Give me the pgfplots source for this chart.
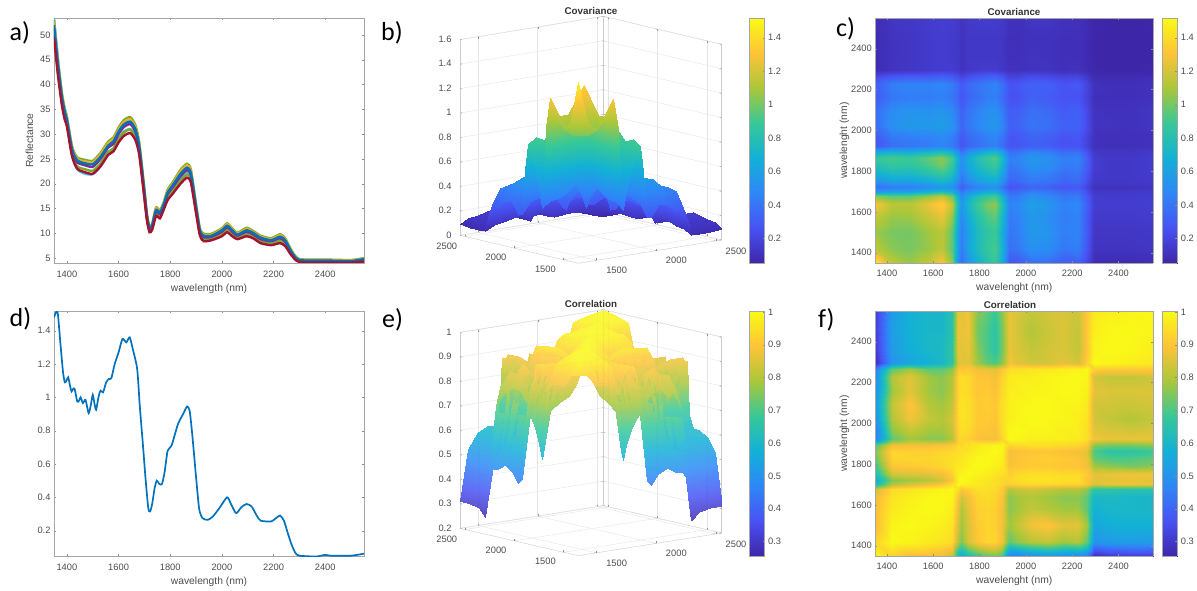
\documentclass[border=0pt]{standalone}
\usepackage{pgfplots}
\pgfplotsset{compat=1.18}
\usepackage{pgfplotstable}
\usepackage{fontspec}
\setmainfont{Liberation Sans}
\newfontfamily\panelfont{Carlito}
\pgfplotsset{colormap={parula}{rgb255=(62,38,168) rgb255=(72,82,244) rgb255=(46,135,247) rgb255=(18,177,214) rgb255=(55,200,151) rgb255=(171,199,57) rgb255=(254,195,56) rgb255=(249,251,21)}}
\pgfplotsset{base/.style={scale only axis,/pgf/number format/assume math mode=true,/pgf/number format/set thousands separator={},
 tick label style={font=\fontsize{9.3}{10}\selectfont,text=black!70},
 label style={font=\fontsize{10.3}{11}\selectfont,text=black!70},
 axis line style={black!35},tick style={black!45},major tick length=2pt,colormap name=parula}}
\def\wlat#1{\ifcase\numexpr#1\relax 1350\or 1420\or 1500\or 1580\or 1640\or 1680\or 1705\or 1722\or 1750\or 1790\or 1830\or 1865\or 1895\or 1925\or 1960\or 2020\or 2095\or 2160\or 2225\or 2265\or 2295\or 2360\or 2450\or 2550\fi}
\def\wlx{\the\numexpr\wlat{\coordindex-24*((2*\coordindex-23)/48)}\relax}
\def\wly{\the\numexpr\wlat{(2*\coordindex-23)/48}\relax}
\pgfplotstableread{
w lb g y bl p o r
1350 53.4 53.0 52.6 52.0 51.4 50.3 49.5
1365 45.3 45.0 44.6 44.2 43.7 42.7 42.0
1380 38.0 38.5 38.2 37.8 37.4 36.6 36.0
1391 34.5 35.3 35.0 34.7 34.3 33.5 33.0
1400 32.5 33.5 33.3 32.9 32.6 31.9 31.5
1420 25.8 27.5 27.3 26.9 26.6 25.9 25.5
1440 22.9 25.3 25.0 24.7 24.3 23.5 23.0
1470 22.0 24.8 24.5 24.1 23.7 22.9 22.3
1500 21.9 24.6 24.3 23.9 23.4 22.6 22.0
1530 23.5 26.2 25.9 25.4 25.0 24.1 23.5
1560 26.0 28.5 28.2 27.7 27.3 26.4 25.8
1580 27.0 29.3 29.0 28.5 28.0 27.1 26.5
1600 29.0 31.3 30.9 30.5 30.0 29.0 28.3
1620 30.5 32.8 32.4 31.9 31.4 30.3 29.6
1645 31.0 33.4 33.0 32.5 32.0 30.9 30.2
1665 29.8 31.8 31.4 31.0 30.5 29.5 28.8
1680 26.6 28.3 28.0 27.6 27.2 26.4 25.8
1700 17.6 18.8 18.6 18.3 18.0 17.4 17.0
1710 13.0 13.8 13.6 13.4 13.2 12.8 12.5
1720 10.6 11.3 11.2 11.0 10.8 10.4 10.2
1730 11.1 11.9 11.8 11.6 11.4 11.0 10.7
1745 14.1 15.2 15.0 14.7 14.4 13.9 13.5
1760 13.6 14.6 14.4 14.2 13.9 13.4 13.0
1775 15.3 16.3 16.1 15.9 15.6 15.1 14.8
1790 17.4 18.8 18.5 18.2 17.9 17.2 16.7
1810 18.8 20.3 20.0 19.7 19.3 18.5 18.0
1840 20.9 22.8 22.5 22.0 21.5 20.6 20.0
1865 22.1 24.0 23.7 23.2 22.7 21.8 21.2
1880 21.0 22.8 22.5 22.1 21.6 20.8 20.2
1900 14.6 15.8 15.6 15.3 15.0 14.4 14.0
1915 10.0 10.9 10.7 10.5 10.3 9.8 9.5
1930 8.9 9.9 9.7 9.5 9.2 8.7 8.4
1960 9.0 9.9 9.7 9.5 9.3 8.9 8.6
2000 10.0 11.0 10.8 10.6 10.3 9.8 9.4
2020 10.8 12.0 11.8 11.5 11.2 10.6 10.2
2040 10.0 11.0 10.8 10.6 10.3 9.8 9.4
2060 9.2 10.1 9.9 9.7 9.5 9.1 8.8
2095 10.0 11.1 10.9 10.6 10.3 9.8 9.4
2120 9.5 10.5 10.3 10.1 9.8 9.3 9.0
2150 8.5 9.5 9.3 9.1 8.8 8.3 8.0
2190 8.1 9.0 8.8 8.6 8.4 7.9 7.6
2225 8.6 9.8 9.6 9.3 9.0 8.4 8.0
2245 8.0 9.0 8.8 8.6 8.3 7.8 7.4
2270 5.8 6.5 6.4 6.2 6.0 5.7 5.5
2300 4.4 4.8 4.7 4.6 4.5 4.3 4.2
2400 4.3 4.7 4.6 4.5 4.4 4.2 4.1
2500 4.2 4.6 4.5 4.4 4.3 4.2 4.1
2550 4.5 5.0 4.9 4.8 4.6 4.4 4.3
}\spectra
\pgfplotstableread{
w v
1350 1.48
1358 1.51
1365 1.50
1375 1.32
1385 1.15
1392 1.09
1398 1.10
1405 1.12
1412 1.07
1418 1.035
1424 1.05
1430 1.05
1440 0.975
1447 0.98
1453 1.00
1462 0.965
1472 0.985
1484 0.905
1492 0.95
1500 1.015
1507 0.96
1513 0.925
1522 1.00
1530 1.04
1540 1.03
1552 1.09
1562 1.11
1572 1.115
1585 1.20
1600 1.27
1615 1.35
1630 1.33
1643 1.36
1655 1.29
1672 1.17
1682 0.95
1695 0.70
1705 0.50
1715 0.335
1722 0.315
1730 0.36
1740 0.46
1748 0.50
1758 0.48
1768 0.48
1778 0.55
1790 0.68
1805 0.71
1830 0.84
1850 0.90
1865 0.945
1875 0.92
1885 0.78
1900 0.52
1912 0.33
1925 0.275
1945 0.265
1965 0.285
1990 0.335
2020 0.40
2035 0.36
2055 0.305
2075 0.34
2095 0.36
2115 0.345
2135 0.29
2150 0.26
2190 0.255
2205 0.27
2225 0.29
2240 0.26
2255 0.185
2270 0.115
2285 0.065
2300 0.05
2365 0.045
2400 0.055
2420 0.05
2500 0.05
2550 0.062
}\vari
\pgfplotstableread[header=false]{
1.48
1.15
1.07
1.16
1.30
1.05
.52
.38
.53
.68
.80
.88
.66
.29
.28
.37
.37
.30
.31
.20
.08
.08
.08
.09
1.15
1.04
1.01
1.07
1.14
.96
.58
.43
.61
.76
.87
.92
.70
.38
.41
.52
.50
.41
.44
.27
.12
.12
.12
.13
1.07
1.01
1.00
1.08
1.14
.96
.59
.44
.60
.75
.85
.89
.68
.41
.43
.56
.54
.44
.46
.29
.13
.13
.13
.14
1.16
1.07
1.08
1.18
1.26
1.06
.67
.49
.66
.82
.93
.97
.74
.43
.45
.56
.52
.43
.46
.29
.15
.15
.15
.16
1.30
1.14
1.14
1.26
1.36
1.15
.74
.55
.73
.89
1.01
1.05
.80
.46
.48
.59
.55
.45
.48
.31
.16
.16
.16
.17
1.05
.96
.96
1.06
1.15
1.00
.67
.50
.65
.78
.87
.91
.71
.42
.43
.53
.49
.41
.43
.28
.16
.15
.15
.16
.52
.58
.59
.67
.74
.67
.50
.39
.49
.57
.62
.65
.52
.34
.35
.42
.40
.34
.35
.24
.14
.14
.14
.15
.38
.43
.44
.49
.55
.50
.39
.32
.39
.45
.49
.52
.40
.27
.28
.34
.32
.27
.29
.19
.11
.11
.11
.12
.53
.61
.60
.66
.73
.65
.49
.39
.50
.58
.64
.66
.52
.34
.35
.42
.40
.34
.36
.24
.14
.14
.14
.15
.68
.76
.75
.82
.89
.78
.57
.45
.58
.68
.75
.79
.62
.38
.39
.47
.45
.38
.40
.27
.15
.14
.14
.16
.80
.87
.85
.93
1.01
.87
.62
.49
.64
.75
.84
.89
.70
.42
.44
.53
.51
.43
.44
.30
.16
.14
.14
.16
.88
.92
.89
.97
1.05
.91
.65
.52
.66
.79
.89
.94
.75
.45
.46
.55
.52
.44
.46
.31
.16
.14
.14
.16
.66
.70
.68
.74
.80
.71
.52
.40
.52
.62
.70
.75
.60
.38
.39
.47
.44
.37
.39
.26
.14
.13
.13
.15
.29
.38
.41
.43
.46
.42
.34
.27
.34
.38
.42
.45
.38
.28
.28
.32
.31
.26
.27
.19
.11
.10
.10
.11
.28
.41
.43
.45
.48
.43
.35
.28
.35
.39
.44
.46
.39
.28
.28
.33
.31
.26
.28
.19
.11
.10
.10
.11
.37
.52
.56
.56
.59
.53
.42
.34
.42
.47
.53
.55
.47
.32
.33
.40
.38
.32
.33
.23
.12
.12
.11
.13
.37
.50
.54
.52
.55
.49
.40
.32
.40
.45
.51
.52
.44
.31
.31
.38
.36
.30
.32
.22
.12
.11
.11
.13
.30
.41
.44
.43
.45
.41
.34
.27
.34
.38
.43
.44
.37
.26
.26
.32
.30
.26
.27
.19
.10
.10
.10
.11
.31
.44
.46
.46
.48
.43
.35
.29
.36
.40
.44
.46
.39
.27
.28
.33
.32
.27
.29
.20
.11
.10
.10
.11
.20
.27
.29
.29
.31
.28
.24
.19
.24
.27
.30
.31
.26
.19
.19
.23
.22
.19
.20
.14
.08
.08
.08
.09
.08
.12
.13
.15
.16
.16
.14
.11
.14
.15
.16
.16
.14
.11
.11
.12
.12
.10
.11
.08
.06
.05
.05
.06
.08
.12
.13
.15
.16
.15
.14
.11
.14
.14
.14
.14
.13
.10
.10
.12
.11
.10
.10
.08
.05
.05
.05
.05
.08
.12
.13
.15
.16
.15
.14
.11
.14
.14
.14
.14
.13
.10
.10
.11
.11
.10
.10
.08
.05
.05
.05
.05
.09
.13
.14
.16
.17
.16
.15
.12
.15
.16
.16
.16
.15
.11
.11
.13
.13
.11
.11
.09
.06
.05
.05
.06
}\cov
\pgfplotstableread[header=false]{
1
.93
.88
.88
.87
.83
.60
.56
.62
.68
.72
.74
.70
.46
.44
.48
.50
.48
.47
.44
.27
.30
.31
.31
.93
1
.99
.97
.96
.94
.80
.75
.84
.90
.93
.93
.88
.72
.76
.80
.82
.78
.80
.72
.50
.52
.53
.52
.88
.99
1
.99
.98
.96
.84
.78
.85
.91
.93
.92
.88
.78
.82
.88
.90
.86
.86
.78
.55
.57
.58
.58
.88
.97
.99
1
.995
.98
.87
.80
.86
.92
.93
.92
.88
.76
.78
.82
.80
.78
.78
.72
.58
.60
.60
.60
.87
.96
.98
.995
1
.99
.90
.84
.88
.93
.94
.93
.89
.76
.78
.80
.78
.76
.76
.72
.60
.61
.60
.60
.83
.94
.96
.98
.99
1
.95
.90
.92
.95
.95
.94
.91
.80
.82
.84
.82
.80
.80
.76
.66
.66
.65
.65
.60
.80
.84
.87
.90
.95
1
.99
.98
.97
.96
.95
.94
.92
.93
.94
.94
.93
.93
.90
.85
.87
.88
.87
.56
.75
.78
.80
.84
.90
.99
1
.99
.97
.96
.95
.93
.93
.95
.96
.96
.95
.95
.90
.86
.86
.87
.86
.62
.84
.85
.86
.88
.92
.98
.99
1
.99
.98
.96
.95
.92
.94
.95
.95
.94
.94
.91
.86
.87
.88
.88
.68
.90
.91
.92
.93
.95
.97
.97
.99
1
.995
.98
.97
.89
.90
.91
.91
.90
.90
.88
.78
.76
.74
.76
.72
.93
.93
.93
.94
.95
.96
.96
.98
.995
1
.995
.98
.88
.90
.91
.92
.91
.90
.87
.72
.70
.70
.72
.74
.93
.92
.92
.93
.94
.95
.95
.96
.98
.995
1
.99
.88
.89
.90
.90
.89
.88
.86
.70
.66
.66
.68
.70
.88
.88
.88
.89
.91
.94
.93
.95
.97
.98
.99
1
.93
.94
.95
.95
.94
.93
.90
.76
.74
.74
.76
.46
.72
.78
.76
.76
.80
.92
.93
.92
.89
.88
.88
.93
1
.995
.98
.98
.98
.97
.95
.88
.87
.87
.87
.44
.76
.82
.78
.78
.82
.93
.95
.94
.90
.90
.89
.94
.995
1
.99
.99
.98
.98
.95
.86
.85
.84
.85
.48
.80
.88
.82
.80
.84
.94
.96
.95
.91
.91
.90
.95
.98
.99
1
.995
.99
.98
.96
.84
.82
.80
.82
.50
.82
.90
.80
.78
.82
.94
.96
.95
.91
.92
.90
.95
.98
.99
.995
1
.99
.99
.97
.84
.84
.83
.84
.48
.78
.86
.78
.76
.80
.93
.95
.94
.90
.91
.89
.94
.98
.98
.99
.99
1
.995
.98
.86
.85
.85
.85
.47
.80
.86
.78
.76
.80
.93
.95
.94
.90
.90
.88
.93
.97
.98
.98
.99
.995
1
.99
.84
.82
.82
.83
.44
.72
.78
.72
.72
.76
.90
.90
.91
.88
.87
.86
.90
.95
.95
.96
.97
.98
.99
1
.92
.91
.91
.91
.27
.50
.55
.58
.60
.66
.85
.86
.86
.78
.72
.70
.76
.88
.86
.84
.84
.86
.84
.92
1
.99
.98
.97
.30
.52
.57
.60
.61
.66
.87
.86
.87
.76
.70
.66
.74
.87
.85
.82
.84
.85
.82
.91
.99
1
.995
.98
.31
.53
.58
.60
.60
.65
.88
.87
.88
.74
.70
.66
.74
.87
.84
.80
.83
.85
.82
.91
.98
.995
1
.99
.31
.52
.58
.60
.60
.65
.87
.86
.88
.76
.72
.68
.76
.87
.85
.82
.84
.85
.83
.91
.97
.98
.99
1
}\corr
\pgfplotsset{
 line/.style={base,anchor=south west,width=310pt,height=245pt,xmin=1350,xmax=2550,xtick={1400,1600,...,2400},xlabel={wavelength (nm)},x tick label style={yshift=-4pt}},
 heat/.style={base,anchor=south west,width=278pt,height=245pt,view={0}{90},axis on top,
  xmin=1350,xmax=2550,ymin=1350,ymax=2550,xtick={1400,1600,...,2400},ytick={1400,1600,...,2400},
  xlabel={wavelenght (nm)},ylabel={wavelenght (nm)},ylabel shift=-5pt,x tick label style={yshift=-3pt}},
 cbar/.style={base,anchor=south west,width=15.3pt,height=245pt,view={0}{90},axis on top,
  xmin=0,xmax=1,zmin=-1,zmax=1,xtick=\empty,ytick pos=right,yticklabel pos=right},
 wall/.style={base,anchor=south west,xmin=1350,xmax=2550,ymin=1350,ymax=2550,
  axis line style={black!20},
  x tick label style={xshift=14pt,yshift=-2pt},y tick label style={xshift=-11pt,yshift=-1pt},z tick label style={xshift=-5pt},
  xtick={1500,2000,2500},ytick={1500,2000,2500},grid=major,grid style={black!10}},
 matdata/.style={surf,shader=interp,mesh/rows=24,mesh/cols=24,point meta=z},
}
\begin{document}
\begin{tikzpicture}[x=1pt,y=1pt]
\path[use as bounding box] (0,0) rectangle (1197,590);
% a
\begin{axis}[line,at={(54pt,327pt)},ymin=4,ymax=53.4,ytick={5,10,...,50},ylabel={Reflectance}]
\addplot[color={rgb,255:red,77;green,190;blue,238},line width=2.4pt,smooth,tension=0.4] table[x=w,y=lb]{\spectra};
\addplot[color={rgb,255:red,119;green,172;blue,48},line width=2.4pt,smooth,tension=0.4] table[x=w,y=g]{\spectra};
\addplot[color={rgb,255:red,237;green,177;blue,32},line width=2.4pt,smooth,tension=0.4] table[x=w,y=y]{\spectra};
\addplot[color={rgb,255:red,119;green,172;blue,48},line width=2.4pt,smooth,tension=0.4] table[x=w,y=o]{\spectra};
\addplot[color={rgb,255:red,126;green,47;blue,142},line width=2.4pt,smooth,tension=0.4] table[x=w,y=p]{\spectra};
\addplot[color={rgb,255:red,0;green,114;blue,189},line width=2.4pt,smooth,tension=0.4] table[x=w,y=bl]{\spectra};
\addplot[color={rgb,255:red,162;green,20;blue,47},line width=2.4pt,smooth,tension=0.4] table[x=w,y=r]{\spectra};
\end{axis}
% d
\begin{axis}[line,at={(54pt,34pt)},ymin=0.048,ymax=1.518,ytick={0.2,0.4,...,1.4}]
\addplot[color={rgb,255:red,0;green,114;blue,189},line width=1.7pt,smooth,tension=0.4] table[x=w,y=v]{\vari};
\end{axis}
% b
\begin{axis}[wall,at={(460pt,326.7pt)},x={(0.11944pt,0.01944pt)},y={(-0.0986pt,0.02333pt)},z={(0pt,122.3pt)},
 zmin=0,zmax=1.6,ztick={0,0.2,...,1.6},point meta min=0.054,point meta max=1.518]
\addplot3[matdata,z buffer=sort] table[x index=0,y index=0,z index=0,x expr=\wlx,y expr=\wly]{\cov};
\end{axis}
% e
\begin{axis}[wall,at={(460pt,34.3pt)},x={(0.11944pt,0.0189pt)},y={(-0.0986pt,0.02278pt)},z={(0pt,245pt)},
 zmin=0.2,zmax=1,ztick={0.2,0.3,...,1},point meta min=0.256,point meta max=1.003]
\addplot3[matdata,z buffer=sort,opacity=0.85] table[x index=0,y index=0,z index=0,x expr=\wlx,y expr=\wly]{\corr};
\end{axis}
% c
\begin{axis}[heat,at={(875.3pt,327pt)},point meta min=0.054,point meta max=1.518]
\addplot3[matdata] table[x index=0,y index=0,z index=0,x expr=\wlx,y expr=\wly]{\cov};
\end{axis}
% f
\begin{axis}[heat,at={(875.3pt,34pt)},point meta min=0.256,point meta max=1.003]
\addplot3[matdata] table[x index=0,y index=0,z index=0,x expr=\wlx,y expr=\wly]{\corr};
\end{axis}
% colour bars
\begin{axis}[cbar,at={(749.3pt,327pt)},ymin=0.054,ymax=1.518,ytick={0.2,0.4,...,1.4},point meta min=0.054,point meta max=1.518]
\addplot3[surf,shader=interp,point meta=y,mesh/rows=2,mesh/cols=2] coordinates {(0,0.054,0) (1,0.054,0) (0,1.518,0) (1,1.518,0)};
\end{axis}
\begin{axis}[cbar,at={(1162pt,327pt)},ymin=0.054,ymax=1.518,ytick={0.2,0.4,...,1.4},point meta min=0.054,point meta max=1.518]
\addplot3[surf,shader=interp,point meta=y,mesh/rows=2,mesh/cols=2] coordinates {(0,0.054,0) (1,0.054,0) (0,1.518,0) (1,1.518,0)};
\end{axis}
\begin{axis}[cbar,at={(749.3pt,34pt)},ymin=0.256,ymax=1.003,ytick={0.3,0.4,...,1},point meta min=0.256,point meta max=1.003]
\addplot3[surf,shader=interp,point meta=y,mesh/rows=2,mesh/cols=2] coordinates {(0,0.256,0) (1,0.256,0) (0,1.003,0) (1,1.003,0)};
\end{axis}
\begin{axis}[cbar,at={(1162pt,34pt)},ymin=0.256,ymax=1.003,ytick={0.3,0.4,...,1},point meta min=0.256,point meta max=1.003]
\addplot3[surf,shader=interp,point meta=y,mesh/rows=2,mesh/cols=2] coordinates {(0,0.256,0) (1,0.256,0) (0,1.003,0) (1,1.003,0)};
\end{axis}
% titles and panel letters
\node[font=\bfseries\fontsize{9.8}{11}\selectfont,text=black!80] at (591,579) {Covariance};
\node[font=\bfseries\fontsize{9.8}{11}\selectfont,text=black!80] at (1014,578) {Covariance};
\node[font=\bfseries\fontsize{9.8}{11}\selectfont,text=black!80] at (591,286) {Correlation};
\node[font=\bfseries\fontsize{9.8}{11}\selectfont,text=black!80] at (1010,285) {Correlation};
\node[anchor=base west,inner sep=0pt,font=\panelfont\fontsize{26}{28}\selectfont] at (9.5,549) {a)};
\node[anchor=base west,inner sep=0pt,font=\panelfont\fontsize{26}{28}\selectfont] at (381,549) {b)};
\node[anchor=base west,inner sep=0pt,font=\panelfont\fontsize{26}{28}\selectfont] at (836,553) {c)};
\node[anchor=base west,inner sep=0pt,font=\panelfont\fontsize{26}{28}\selectfont] at (9.5,264) {d)};
\node[anchor=base west,inner sep=0pt,font=\panelfont\fontsize{26}{28}\selectfont] at (382,262) {e)};
\node[anchor=base west,inner sep=0pt,font=\panelfont\fontsize{26}{28}\selectfont] at (818,262) {f)};
\end{tikzpicture}
\end{document}
